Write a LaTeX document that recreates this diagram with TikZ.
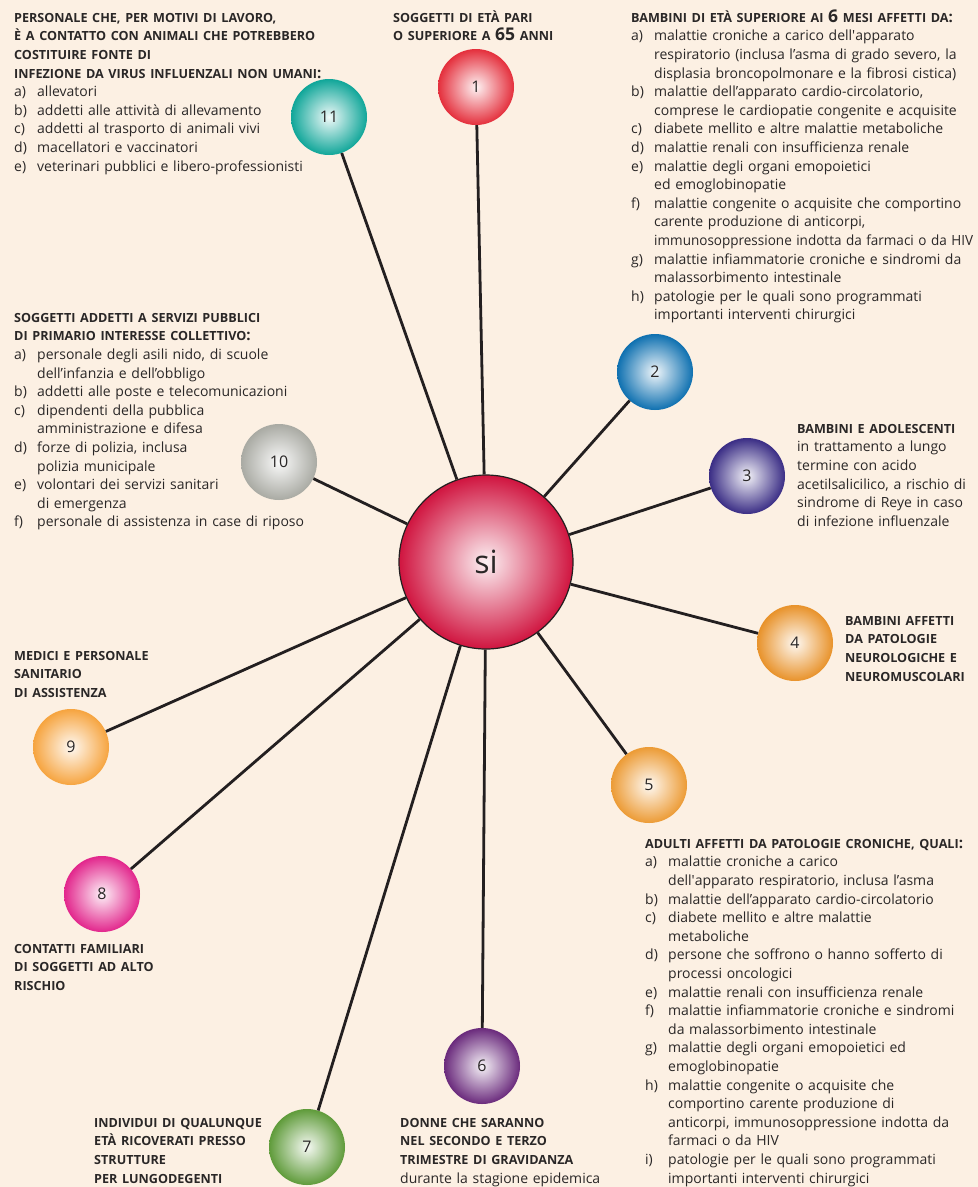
\documentclass[tikz,border=0pt]{standalone}
\usepackage{graphicx}
\usepackage{fontspec}
\setmainfont{Open Sans}
\definecolor{bg}{HTML}{FCF0E3}
\definecolor{txtc}{HTML}{2A2727}
\definecolor{linec}{HTML}{231F20}
\definecolor{cA}{HTML}{E42F3C}
\definecolor{cB}{HTML}{0E70B0}
\definecolor{cC}{HTML}{3A2D85}
\definecolor{cD}{HTML}{E8922A}
\definecolor{cE}{HTML}{EC9B35}
\definecolor{cF}{HTML}{6A2A7C}
\definecolor{cG}{HTML}{5F9B3A}
\definecolor{cH}{HTML}{E2268C}
\definecolor{cI}{HTML}{F6A43F}
\definecolor{cJ}{HTML}{A9AAA3}
\definecolor{cK}{HTML}{10A699}
\definecolor{cSi}{HTML}{D0143F}
\newcommand\bd{\fontsize{14}{18.6}\selectfont}
\newcommand\hd[1]{{\fontsize{12.6}{18.6}\selectfont\bfseries #1}}
\newcommand\lab[1]{\makebox[23pt][l]{#1}}
\newcommand\ind{\hspace*{23pt}}
\newcommand\bignum[1]{{\fontsize{17.5}{18.6}\selectfont #1}}
\newcommand\bigcolon{{\fontsize{15}{18.6}\selectfont :}}
\begin{document}
\begin{tikzpicture}[x=1pt,y=-1pt,
  ball/.style={circle, inner sep=0pt, minimum size=76pt, shading=radial,
     inner color=#1!6!white, outer color=#1, text=txtc, font=\fontsize{16}{16}\selectfont},
  conn/.style={draw=linec, line width=2.8pt},
  txt/.style={anchor=north west, inner sep=0pt, align=left, text width=360pt,
     text=txtc, font=\bd}]
\useasboundingbox (0,0) rectangle (978,1187);
\fill[bg] (0,0) rectangle (978,1187);

% circles
\node[circle, inner sep=0pt, minimum size=174pt, shading=radial, inner color=cSi!6!white,
      outer color=cSi, draw=linec, line width=1.2pt, text=txtc,
      font=\fontsize{32}{32}\selectfont] (si) at (486,562) {si};
\node[ball=cA] (n1) at (476,87) {1};
\node[ball=cB] (n2) at (655,372) {2};
\node[ball=cC] (n3) at (747,476) {3};
\node[ball=cD] (n4) at (795,643) {4};
\node[ball=cE] (n5) at (649,785) {5};
\node[ball=cF] (n6) at (482,1066) {6};
\node[ball=cG] (n7) at (307,1147) {7};
\node[ball=cH] (n8) at (102,894) {8};
\node[ball=cI] (n9) at (71,747) {9};
\node[ball=cJ] (n10) at (279,462) {10};
\node[ball=cK] (n11) at (329,117) {11};

% connectors
\foreach \n in {n1,n2,n3,n4,n5,n6,n7,n8,n9,n10,n11}
  \draw[conn] (si) -- (\n);

% texts
\node[txt] (t11) at (14,9) {\strut\hd{PERSONALE CHE, PER MOTIVI DI LAVORO,}\\
\hd{È A CONTATTO CON ANIMALI CHE POTREBBERO}\\
\hd{COSTITUIRE FONTE DI}\\
\hd{INFEZIONE DA VIRUS INFLUENZALI NON UMANI\bigcolon}\\
\lab{a)}allevatori\\
\lab{b)}addetti alle attività di allevamento\\
\lab{c)}addetti al trasporto di animali vivi\\
\lab{d)}macellatori e vaccinatori\\
\lab{e)}veterinari pubblici e libero-professionisti};

\node[txt] (t1) at (393,9) {\strut\hd{SOGGETTI DI ETÀ PARI}\\
\hd{O SUPERIORE A \bignum{65} ANNI}};

\node[txt] (t2) at (631,9) {\strut\hd{BAMBINI DI ETÀ SUPERIORE AI \bignum{6} MESI AFFETTI DA\bigcolon}\\
\lab{a)}malattie croniche a carico dell\textquotesingle apparato\\
\ind respiratorio (inclusa l’asma di grado severo, la\\
\ind displasia broncopolmonare e la fibrosi cistica)\\
\lab{b)}malattie dell’apparato cardio-circolatorio,\\
\ind comprese le cardiopatie congenite e acquisite\\
\lab{c)}diabete mellito e altre malattie metaboliche\\
\lab{d)}malattie renali con insufficienza renale\\
\lab{e)}malattie degli organi emopoietici\\
\ind ed emoglobinopatie\\
\lab{f)}malattie congenite o acquisite che comportino\\
\ind carente produzione di anticorpi,\\
\ind \scalebox{0.965}[1]{immunosoppressione indotta da farmaci o da HIV}\\
\lab{g)}malattie infiammatorie croniche e sindromi da\\
\ind malassorbimento intestinale\\
\lab{h)}patologie per le quali sono programmati\\
\ind importanti interventi chirurgici};

\node[txt] (t10) at (14,309) {\strut\hd{SOGGETTI ADDETTI A SERVIZI PUBBLICI}\\
\hd{DI PRIMARIO INTERESSE COLLETTIVO\bigcolon}\\
\lab{a)}personale degli asili nido, di scuole\\
\ind dell’infanzia e dell’obbligo\\
\lab{b)}addetti alle poste e telecomunicazioni\\
\lab{c)}dipendenti della pubblica\\
\ind amministrazione e difesa\\
\lab{d)}forze di polizia, inclusa\\
\ind polizia municipale\\
\lab{e)}volontari dei servizi sanitari\\
\ind di emergenza\\
\lab{f)}personale di assistenza in case di riposo};

\node[txt] (t3) at (797,420) {\strut\hd{BAMBINI E ADOLESCENTI}\\
in trattamento a lungo\\
termine con acido\\
acetilsalicilico, a rischio di\\
sindrome di Reye in caso\\
di infezione influenzale};

\node[txt] (t4) at (845,612) {\strut\hd{BAMBINI AFFETTI}\\
\hd{DA PATOLOGIE}\\
\hd{NEUROLOGICHE E}\\
\hd{NEUROMUSCOLARI}};

\node[txt] (t9) at (14,647) {\strut\hd{MEDICI E PERSONALE}\\
\hd{SANITARIO}\\
\hd{DI ASSISTENZA}};

\node[txt] (t8) at (14,940) {\strut\hd{CONTATTI FAMILIARI}\\
\hd{DI SOGGETTI AD ALTO}\\
\hd{RISCHIO}};

\node[txt] (t5) at (645,835) {\strut\hd{ADULTI AFFETTI DA PATOLOGIE CRONICHE, QUALI\bigcolon}\\
\lab{a)}malattie croniche a carico\\
\ind dell\textquotesingle apparato respiratorio, inclusa l’asma\\
\lab{b)}malattie dell’apparato cardio-circolatorio\\
\lab{c)}diabete mellito e altre malattie\\
\ind metaboliche\\
\lab{d)}persone che soffrono o hanno sofferto di\\
\ind processi oncologici\\
\lab{e)}malattie renali con insufficienza renale\\
\lab{f)}malattie infiammatorie croniche e sindromi\\
\ind da malassorbimento intestinale\\
\lab{g)}malattie degli organi emopoietici ed\\
\ind emoglobinopatie\\
\lab{h)}malattie congenite o acquisite che\\
\ind comportino carente produzione di\\
\ind anticorpi, immunosoppressione indotta da\\
\ind farmaci o da HIV\\
\lab{i)}patologie per le quali sono programmati\\
\ind importanti interventi chirurgici};

\node[txt] (t7) at (94,1114) {\strut\hd{INDIVIDUI DI QUALUNQUE}\\
\hd{ETÀ RICOVERATI PRESSO}\\
\hd{STRUTTURE}\\
\hd{PER LUNGODEGENTI}};

\node[txt] (t6) at (400,1114) {\strut\hd{DONNE CHE SARANNO}\\
\hd{NEL SECONDO E TERZO}\\
\hd{TRIMESTRE DI GRAVIDANZA}\\
durante la stagione epidemica};
\end{tikzpicture}
\end{document}
